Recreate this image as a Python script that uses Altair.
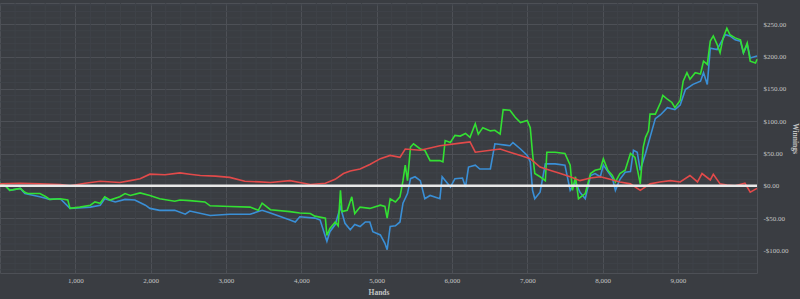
import altair as alt
import pandas as pd

# ---- data ----
red_hands = [0, 270, 530, 800, 930, 1130, 1330, 1590, 1730, 1860, 1990, 2190, 2390, 2520, 2660, 2860,
             3050, 3250, 3450, 3590, 3850, 3980, 4120, 4320, 4450, 4560, 4650, 4780, 4910, 5050, 5180,
             5310, 5380, 5580, 5840, 6110, 6240, 6310, 6510, 6640, 6770, 6910, 7040, 7170, 7300, 7440,
             7570, 7700, 7840, 7970, 8100, 8230, 8370, 8500, 8630, 8760, 8900, 9030, 9160, 9260, 9320,
             9430, 9470, 9560, 9650, 9760, 9890, 9960, 10050]
red_vals = [3, 4, 3, 2, 0, 4, 7, 5, 8, 11, 18, 17, 20, 18, 16, 15,
            13, 7, 6, 5, 8, 5, 2, 4, 10, 19, 23, 26, 33, 42, 47,
            44, 57, 55, 62, 66, 68, 52, 55, 57, 52, 47, 42, 29, 24, 19,
            14, 8, 12, 14, 10, 6, 3, -7, 3, 6, 8, 6, 16, 6, 19,
            9, 18, 3, 1, 0, 4, -10, -4]

green_hands = [0, 70, 130, 270, 330, 370, 530, 610, 660, 800, 900, 930, 1060, 1200, 1260, 1330, 1390,
               1460, 1590, 1660, 1730, 1860, 1990, 2120, 2320, 2390, 2520, 2720, 2790, 3050, 3320, 3430,
               3480, 3590, 3850, 3980, 4120, 4180, 4320, 4340, 4380, 4450, 4490, 4520, 4540, 4610, 4670,
               4710, 4780, 4910, 5050, 5110, 5140, 5180, 5250, 5310, 5350, 5380, 5410, 5450, 5490, 5580,
               5640, 5710, 5840, 5880, 5910, 5980, 6040, 6110, 6180, 6240, 6310, 6350, 6410, 6510, 6570,
               6640, 6680, 6770, 6840, 6910, 7000, 7040, 7070, 7100, 7170, 7240, 7260, 7370, 7500, 7570,
               7600, 7640, 7680, 7770, 7840, 7900, 7970, 8010, 8070, 8130, 8170, 8230, 8300, 8370, 8430,
               8500, 8540, 8570, 8610, 8630, 8700, 8770, 8800, 8860, 8920, 8960, 9030, 9070, 9120, 9160,
               9230, 9300, 9340, 9390, 9430, 9470, 9520, 9560, 9600, 9650, 9690, 9760, 9830, 9870, 9920,
               9960, 10030, 10050]
green_vals = [4, 0, -7, -4, -10, -12, -12, -17, -21, -20, -22, -35, -33, -30, -25, -27, -17,
              -22, -17, -12, -15, -11, -15, -20, -24, -22, -23, -25, -31, -32, -33, -38,
              -27, -37, -40, -42, -43, -47, -50, -77, -66, -56, -62, -7, -40, -38, -17,
              -43, -33, -35, -30, -32, -50, -20, -25, -17, 8, 32, 8, 60, 65, 57,
              55, 39, 39, 37, 70, 67, 78, 77, 81, 75, 96, 80, 90, 85, 86,
              80, 118, 117, 106, 98, 101, 90, 50, 19, 14, 8, 52, 52, 50, 32,
              -7, 14, -20, -12, 19, 24, 26, 42, 24, 16, 6, 19, 24, 50, 44,
              3, 60, 75, 85, 111, 111, 129, 140, 134, 129, 121, 132, 162, 175, 165,
              175, 173, 193, 188, 224, 232, 219, 206, 229, 244, 234, 229, 226, 206, 221,
              193, 190, 196]

blue_hands = [0, 70, 130, 270, 330, 530, 660, 800, 930, 1200, 1330, 1390, 1530, 1660, 1790, 1930,
              1990, 2120, 2320, 2460, 2520, 2790, 3050, 3320, 3480, 3590, 3850, 3920, 3980, 4180, 4250,
              4340, 4380, 4450, 4520, 4580, 4650, 4710, 4780, 4850, 4910, 4950, 5050, 5110, 5140, 5180,
              5250, 5310, 5350, 5410, 5450, 5510, 5580, 5640, 5710, 5840, 5870, 5980, 6040, 6140, 6180,
              6220, 6310, 6370, 6510, 6570, 6710, 6770, 6810, 6910, 7000, 7040, 7070, 7100, 7170, 7240,
              7370, 7500, 7570, 7640, 7700, 7770, 7840, 7900, 7970, 8010, 8070, 8130, 8170, 8230, 8300,
              8370, 8410, 8460, 8500, 8570, 8630, 8700, 8770, 8860, 8960, 9030, 9100, 9200, 9300, 9340,
              9390, 9430, 9520, 9630, 9690, 9760, 9830, 9870, 9920, 9960, 10050]
blue_vals = [4, 0, -7, -4, -12, -17, -21, -20, -35, -33, -30, -20, -25, -21, -22, -30,
             -35, -38, -38, -44, -39, -46, -44, -44, -38, -42, -53, -56, -48, -50, -53,
             -86, -71, -60, -33, -58, -68, -60, -63, -56, -56, -71, -76, -89, -99, -63,
             -62, -56, -27, -12, 11, 14, 8, -20, -15, -20, 14, -2, 11, 12, -2,
             29, 32, 26, 26, 65, 63, 62, 67, 57, 47, 37, -7, -20, -10, 34,
             34, 32, -7, 6, -10, -20, 16, 19, 14, 32, 22, 12, -7, 10, 21,
             22, 55, 52, 24, 50, 75, 104, 110, 121, 118, 125, 149, 157, 162, 175,
             157, 213, 211, 234, 232, 226, 224, 206, 219, 198, 201]

x_ticks = [1000, 2000, 3000, 4000, 5000, 6000, 7000, 8000, 9000]
y_ticks = [-100, -50, 0, 50, 100, 150, 200, 250]
x_minor = [v for v in range(200, 10050, 200) if v % 1000]
y_minor = [v for v in range(-130, 290, 10) if v % 50]

series_names = ["blue", "green", "red"]
series_colors = ["#3a8fd6", "#33e033", "#e24a4a"]

frames = []
for name, h, v in [("blue", blue_hands, blue_vals), ("green", green_hands, green_vals),
                   ("red", red_hands, red_vals)]:
    frames.append(pd.DataFrame({"hands": h, "winnings": v, "series": name,
                                "order": series_names.index(name)}))
df = pd.concat(frames, ignore_index=True)

FONT = "Liberation Serif"
LBL = "#c4c4c4"
xscale = alt.Scale(domain=[0, 10050], nice=False, zero=False)
yscale = alt.Scale(domain=[-135, 283], nice=False, zero=False)

x_axis = alt.Axis(values=x_ticks, labelExpr="format(datum.value, ',')", grid=True,
                  gridColor="#4d5056", domain=False, ticks=False, labelColor=LBL, labelFont=FONT,
                  labelFontSize=7, labelPadding=3, title="Hands", titleFont=FONT,
                  titleFontSize=7.5, titleFontWeight="bold", titleColor=LBL, titlePadding=5)
y_axis = alt.Axis(orient="right", values=y_ticks, grid=True, gridColor="#4d5056",
                  domain=False, ticks=False, labelColor=LBL, labelFont=FONT,
                  labelFontSize=7, labelPadding=6,
                  labelExpr="(datum.value < 0 ? '-$' : '$') + format(abs(datum.value), ',.2f')",
                  title="Winnings", titleAngle=90, titleFont=FONT, titleFontSize=7.5,
                  titleFontWeight="bold", titleColor=LBL, titleX=37, titleY=135,
                  titleAlign="center", titleBaseline="middle")

minor_x = alt.Chart(pd.DataFrame({"m": x_minor})).mark_rule(color="#3f4349", strokeWidth=1).encode(
    x=alt.X("m:Q", scale=xscale, axis=x_axis, title="Hands"))
minor_y = alt.Chart(pd.DataFrame({"m": y_minor})).mark_rule(color="#3f4349", strokeWidth=1).encode(
    y=alt.Y("m:Q", scale=yscale, axis=y_axis, title="Winnings"))

lines = alt.Chart(df).mark_line(strokeWidth=1.6, interpolate="linear").encode(
    x=alt.X("hands:Q", scale=xscale, axis=x_axis, title="Hands"),
    y=alt.Y("winnings:Q", scale=yscale, axis=y_axis, title="Winnings"),
    color=alt.Color("series:N", scale=alt.Scale(domain=series_names, range=series_colors),
                    legend=None),
    order=alt.Order("order:Q"),
    detail="series:N",
)

zero = alt.Chart(pd.DataFrame({"z": [0]})).mark_rule(color="#e8e8e8", strokeWidth=2.5).encode(
    y=alt.Y("z:Q", scale=yscale, axis=y_axis, title="Winnings"))

chart = alt.layer(minor_x, minor_y, lines, zero).properties(
    width=757, height=270,
    background="#3a3d42",
    autosize=alt.AutoSizeParams(type="none"),
    padding={"left": 0, "top": 3, "right": 43, "bottom": 26},
).configure_view(stroke="#4d5056", fill="#3a3d42")

chart.save("out.html", embed_options={"renderer": "svg", "actions": False})
